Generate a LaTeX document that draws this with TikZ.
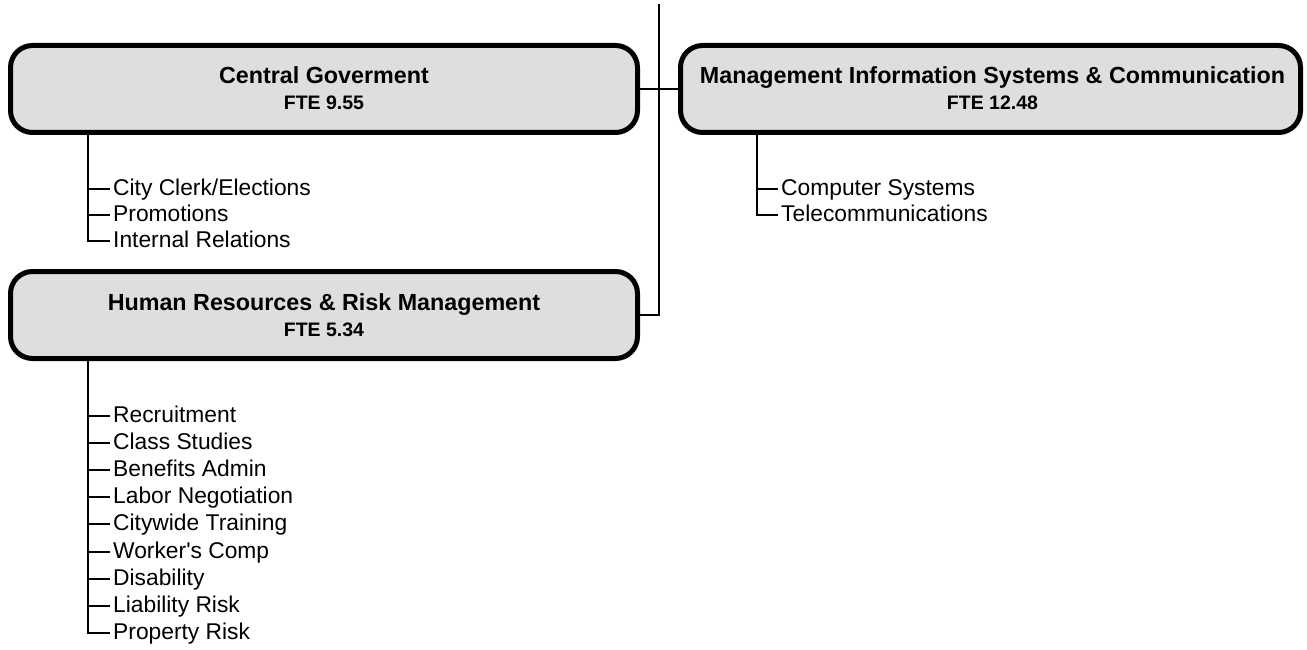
\documentclass[tikz,border=0pt]{standalone}
\usepackage{fontspec}
\setmainfont{Liberation Sans}
\usetikzlibrary{calc}
\definecolor{boxgray}{RGB}{222,222,222}
\begin{document}
\begin{tikzpicture}[x=1pt,y=-1pt,
  unitbox/.style={draw=black, line width=5pt, fill=boxgray, rounded corners=22pt,
    minimum width=627pt, minimum height=87pt, inner sep=0pt},
  titletext/.style={font=\fontsize{23.3}{26}\selectfont\bfseries, inner sep=0pt, anchor=base},
  ftetext/.style={font=\fontsize{19.5}{22}\selectfont\bfseries, inner sep=0pt, anchor=base},
  itemtext/.style={font=\fontsize{22.8}{26}\selectfont, inner ysep=0pt, inner xsep=3pt, anchor=base west},
  link/.style={line width=2pt, draw=black}]
\useasboundingbox (0,0) rectangle (1307,650);

% boxes
\node[unitbox] (cg) at (324,89) {};
\node[unitbox, minimum width=620pt] (mis) at (990.5,89) {};
\node[unitbox] (hr) at (324,315) {};

% box texts
\node[titletext] (cgt) at ($(cg.center)+(0,-5)$) {Central Goverment};
\node[ftetext] (cgf) at ($(cg.center)+(0,21)$) {FTE 9.55};
\node[titletext] (mist) at ($(mis.center)+(2,-5)$) {Management Information Systems \& Communication};
\node[ftetext] (misf) at ($(mis.center)+(2,21)$) {FTE 12.48};
\node[titletext] (hrt) at ($(hr.center)+(0,-5)$) {Human Resources \& Risk Management};
\node[ftetext] (hrf) at ($(hr.center)+(0,21)$) {FTE 5.34};

% spine and box connectors
\coordinate (spine) at (659,4);
\draw[link] (spine) |- (hr.east);
\draw[link] (cg.east) -- (mis.west);

% Central Goverment items (baseline 6.5 below the tick)
\coordinate (cgroot) at (88,132.5);
\node[itemtext] (c1) at (110,195.5) {City Clerk/Elections};
\node[itemtext] (c2) at (110,221.5) {Promotions};
\node[itemtext] (c3) at (110,247.5) {Internal Relations};
\draw[link] (cgroot) |- ($(c3.base west)+(0,-6.5)$);
\foreach \n in {c1,c2} \draw[link] (cgroot |- {$(\n.base west)+(0,-6.5)$}) -- ($(\n.base west)+(0,-6.5)$);

% MIS items
\coordinate (misroot) at (757,132.5);
\node[itemtext] (m1) at (778,195.5) {Computer Systems};
\node[itemtext] (m2) at (778,221.5) {Telecommunications};
\draw[link] (misroot) |- ($(m2.base west)+(0,-6.5)$);
\draw[link] (misroot |- {$(m1.base west)+(0,-6.5)$}) -- ($(m1.base west)+(0,-6.5)$);

% HR items
\coordinate (hrroot) at (88,358.5);
\foreach \t [count=\i] in {Recruitment, Class Studies, Benefits Admin, Labor Negotiation,
  Citywide Training, {Worker\textquotesingle s Comp}, Disability, Liability Risk, Property Risk} {
  \pgfmathsetmacro{\yy}{422.5+(\i-1)*27.1}
  \node[itemtext] (h\i) at (110,\yy) {\t};
}
\draw[link] (hrroot) |- ($(h9.base west)+(0,-6.5)$);
\foreach \i in {1,...,8} \draw[link] (hrroot |- {$(h\i.base west)+(0,-6.5)$}) -- ($(h\i.base west)+(0,-6.5)$);
\end{tikzpicture}
\end{document}
